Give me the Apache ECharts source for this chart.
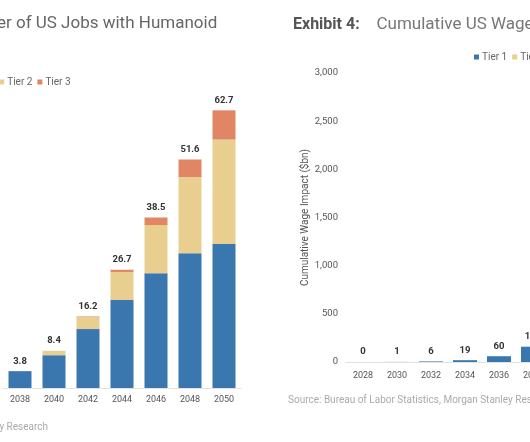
<!DOCTYPE html>
<html><head><meta charset="utf-8">
<script src="https://cdn.jsdelivr.net/npm/echarts@6/dist/echarts.min.js"></script>
<style>html,body{margin:0;padding:0;background:#fff}#c{width:530px;height:442px}</style>
</head><body><div id="c"></div>
<script>
// Left chart: Number of US Jobs with Humanoid robots (visible years)
const leftYears = ['2038','2040','2042','2044','2046','2048','2050'];
const leftTier1 = [3.8, 7.4, 13.3, 19.9, 25.9, 30.4, 32.5];
const leftTier2 = [0, 1.0, 2.8, 6.3, 10.9, 17.2, 23.6];
const leftTier3 = [0, 0, 0.1, 0.5, 1.7, 4.0, 6.6];
const leftTotals = ['3.8','8.4','16.2','26.7','38.5','51.6','62.7'];

// Right chart: Cumulative US Wage Impact ($bn) (visible years)
const rightYears = ['2028','2030','2032','2034','2036','2038'];
const rightTier1 = [0, 1, 6, 19, 60, 159];
const rightTier2 = [0, 0, 0, 0, 0, 0];
const rightTier3 = [0, 0, 0, 0, 0, 0];
const rightTotals = ['0','1','6','19','60','159'];
const rightTicks = [0, 500, 1000, 1500, 2000, 2500, 3000];

const C1 = '#3a77ae', C2 = '#e9cf8f', C3 = '#e08665';
const FONT = 'Roboto';
const chart = echarts.init(document.getElementById('c'));
const lbl = (totals) => ({show: true, position: 'top', distance: 5, fontSize: 9.5, fontWeight: 'bold', color: '#333', fontFamily: FONT,
  formatter: p => totals[p.dataIndex]});
chart.setOption({
  animation: false,
  textStyle: {fontFamily: FONT},
  title: [
    {text: 'Number of US Jobs with Humanoid', left: -54, top: 10, textStyle: {fontSize: 17, fontWeight: 'normal', color: '#666', fontFamily: FONT}},
    {text: '{b|Exhibit 4:}    Cumulative US Wage Impact', left: 288, top: 11,
      textStyle: {fontSize: 17, fontWeight: 'normal', color: '#777', fontFamily: FONT, rich: {b: {fontSize: 16, fontWeight: 'bold', color: '#555', fontFamily: FONT}}}}
  ],
  legend: [
    {data: ['Tier 1','Tier 2','Tier 3'], left: -44, top: 72, width: 200, itemWidth: 5, itemHeight: 5, itemGap: 5, icon: 'rect',
      textStyle: {fontSize: 10, color: '#666', fontFamily: FONT, padding: [0, 0, 0, -2]}},
    {data: ['Tier 1 ','Tier 2 ','Tier 3 '], left: 469, top: 47, width: 200, itemWidth: 5, itemHeight: 5, itemGap: 5, icon: 'rect',
      textStyle: {fontSize: 10, color: '#666', fontFamily: FONT, padding: [0, 0, 0, -2]}, formatter: n => n.trim()}
  ],
  grid: [
    {left: 3, width: 238, top: 78, height: 310, outerBoundsMode: 'none'},
    {left: 346, width: 204, top: 73, height: 289, outerBoundsMode: 'none'}
  ],
  xAxis: [
    {type: 'category', gridIndex: 0, data: leftYears, axisTick: {show: false},
      axisLine: {lineStyle: {color: '#e2e2e2'}}, axisLabel: {fontSize: 9, color: '#555', margin: 7}},
    {type: 'category', gridIndex: 1, data: rightYears, axisTick: {show: false},
      axisLine: {lineStyle: {color: '#e2e2e2'}}, axisLabel: {fontSize: 9, color: '#555', margin: 9}}
  ],
  yAxis: [
    {type: 'value', gridIndex: 0, min: 0, max: 70, show: false, splitLine: {show: false}},
    {type: 'value', gridIndex: 1, min: rightTicks[0], max: rightTicks[rightTicks.length-1], interval: 500,
      axisLine: {show: false}, axisTick: {show: false}, splitLine: {show: false},
      axisLabel: {fontSize: 9.5, color: '#555', margin: 8, formatter: v => v.toLocaleString('en-US')},
      name: 'Cumulative Wage Impact ($bn)', nameLocation: 'middle', nameGap: 36, nameRotate: 90,
      nameTextStyle: {fontSize: 10, color: '#555', fontFamily: FONT}}
  ],
  series: [
    {name: 'Tier 1', type: 'bar', stack: 'L', xAxisIndex: 0, yAxisIndex: 0, data: leftTier1, barWidth: 23, itemStyle: {color: C1}},
    {name: 'Tier 2', type: 'bar', stack: 'L', xAxisIndex: 0, yAxisIndex: 0, data: leftTier2, barWidth: 23, itemStyle: {color: C2}},
    {name: 'Tier 3', type: 'bar', stack: 'L', xAxisIndex: 0, yAxisIndex: 0, data: leftTier3, barWidth: 23, itemStyle: {color: C3}, label: lbl(leftTotals)},
    {name: 'Tier 1 ', type: 'bar', stack: 'R', xAxisIndex: 1, yAxisIndex: 1, data: rightTier1, barWidth: 24, itemStyle: {color: C1}},
    {name: 'Tier 2 ', type: 'bar', stack: 'R', xAxisIndex: 1, yAxisIndex: 1, data: rightTier2, barWidth: 24, itemStyle: {color: C2}},
    {name: 'Tier 3 ', type: 'bar', stack: 'R', xAxisIndex: 1, yAxisIndex: 1, data: rightTier3, barWidth: 24, itemStyle: {color: C3}, label: lbl(rightTotals)}
  ],
  graphic: [
    {type: 'text', x: 48, y: 422, style: {text: 'Source: Morgan Stanley Research', align: 'right', fontSize: 10, fill: '#aaa', fontFamily: FONT}},
    {type: 'text', x: 288, y: 395, style: {text: 'Source: Bureau of Labor Statistics, Morgan Stanley Research', fontSize: 10, fill: '#aaa', fontFamily: FONT}}
  ]
});
</script></body></html>
